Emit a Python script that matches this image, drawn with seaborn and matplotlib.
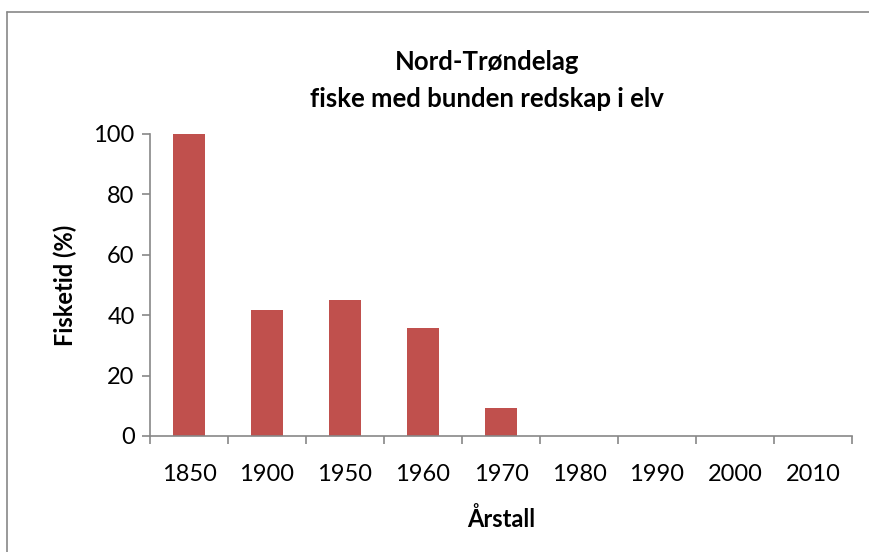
import matplotlib
matplotlib.use("Agg")
import matplotlib.pyplot as plt
import seaborn as sns
import pandas as pd
from matplotlib.lines import Line2D

years = ["1850", "1900", "1950", "1960", "1970", "1980", "1990", "2000", "2010"]
fisketid = [100, 41.7, 45.0, 35.7, 9.3, 0, 0, 0, 0]
title_lines = ["Nord-Trøndelag", "fiske med bunden redskap i elv"]

df = pd.DataFrame({"year": years, "value": fisketid})

sns.set_theme(style="white")
plt.rcParams['font.family'] = ['Lato', 'DejaVu Sans']
plt.rcParams['text.color'] = 'black'
plt.rcParams['axes.labelcolor'] = 'black'
plt.rcParams['xtick.color'] = 'black'
plt.rcParams['ytick.color'] = 'black'

W, H = 870, 552
fig = plt.figure(figsize=(W / 100, H / 100), dpi=100)
ax = fig.add_axes([150 / W, 1 - 436 / H, 702 / W, (436 - 134) / H])

sns.barplot(data=df, x="year", y="value", color="#C0504D", saturation=1,
            width=0.4, ax=ax, edgecolor="none")

ax.set_xlim(-0.5, len(years) - 0.5)
ax.set_ylim(0, 100)
ax.set_yticks([0, 20, 40, 60, 80, 100])
for s in ["top", "right"]:
    ax.spines[s].set_visible(False)
for s in ["left", "bottom"]:
    ax.spines[s].set_color("#878787")
    ax.spines[s].set_linewidth(1.2)

ax.set_xticks(range(len(years)))
ax.set_xticks([i - 0.5 for i in range(len(years) + 1)], minor=True)
ax.tick_params(axis="x", which="major", length=0, pad=20, labelsize=17, labelcolor="black")
ax.tick_params(axis="x", which="minor", length=6, width=1.2, color="#878787", direction="out", bottom=True)
ax.tick_params(axis="y", which="major", length=6, width=1.2, color="#878787", direction="out", left=True,
               labelsize=17, pad=5, labelcolor="black")

ax.set_xlabel("Årstall", fontsize=17, fontweight="bold", labelpad=16, color="black")
ax.set_ylabel("Fisketid (%)", fontsize=17, fontweight="bold", labelpad=12, color="black")

for yb, line in zip([70, 107], title_lines):
    fig.text(487 / W, 1 - yb / H, line, ha="center", va="baseline",
             fontsize=18.5, fontweight="bold", color="black")

# outer chart border
fig.add_artist(Line2D([7 / W, 7 / W], [0, 1 - 12 / H], transform=fig.transFigure, color="#878787", lw=1.2))
fig.add_artist(Line2D([7 / W, 1], [1 - 12 / H, 1 - 12 / H], transform=fig.transFigure, color="#878787", lw=1.2))

fig.savefig("out.png", dpi=100)
